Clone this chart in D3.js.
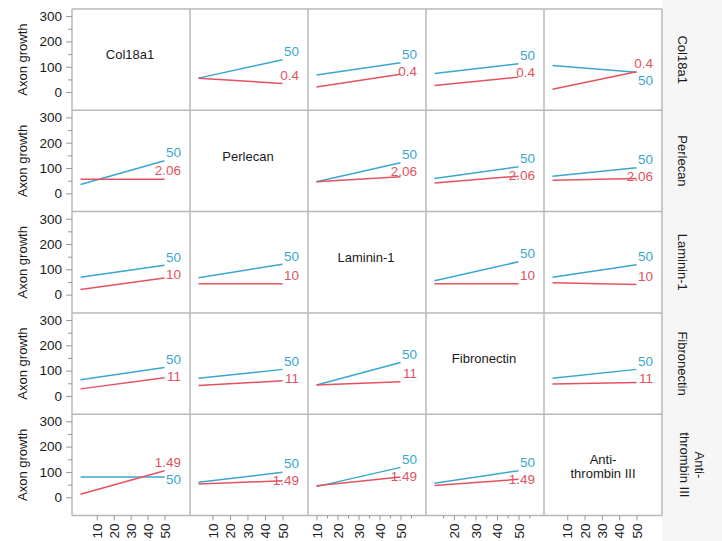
<!DOCTYPE html>
<html>
<head>
<meta charset="utf-8">
<script src="https://cdn.jsdelivr.net/npm/d3@7/dist/d3.min.js"></script>
<style>
  html, body { margin: 0; padding: 0; background: #ffffff; }
  svg { display: block; font-family: "Liberation Sans", Arial, Helvetica, sans-serif; }
</style>
</head>
<body>
<svg id="chart" width="722" height="541"></svg>
<script>
// Factors of the interaction matrix (rows and columns share the same list)
const factors = ["Col18a1", "Perlecan", "Laminin-1", "Fibronectin", "Antithrombin III"];
const diagLabels = [["Col18a1"], ["Perlecan"], ["Laminin-1"], ["Fibronectin"], ["Anti-", "thrombin III"]];
const lowLevels = [0.4, 2.06, 10, 11, 1.49];
const lowLevelLabels = ["0.4", "2.06", "10", "11", "1.49"];
const highLevel = 50;
const highLevelLabel = "50";

// Predicted axon growth at [column factor low, column factor high],
// with the row factor held at its high level (50)
const highSeries = [
  [null,      [55, 128], [67, 116], [73, 112], [105, 78]],
  [[35, 129], null,      [46, 121], [59, 105], [68, 101]],
  [[69, 116], [67, 120], null,      [55, 130], [69, 118]],
  [[64, 112], [70, 105], [43, 132], null,      [70, 105]],
  [[80, 80],  [59, 99],  [42, 118], [55, 105], null]
];
// ... and with the row factor held at its low level
const lowSeries = [
  [null,      [55, 34],  [20, 70],  [26, 59],  [11, 80]],
  [[56, 56],  null,      [46, 66],  [41, 68],  [52, 59]],
  [[20, 66],  [43, 43],  null,      [43, 43],  [47, 40]],
  [[28, 72],  [41, 60],  [43, 56],  null,      [47, 53]],
  [[12, 105], [52, 65],  [45, 80],  [46, 71],  null]
];

// Axis ticks
const yTicks = [0, 100, 200, 300];
const yMinorTicks = [50, 150, 250];
const yDomain = [-72, 328];
const xTicks = [
  [10, 20, 30, 40, 50],
  [10, 20, 30, 40, 50],
  [10, 20, 30, 40, 50],
  [20, 30, 40, 50],
  [10, 20, 30, 40, 50]
];
const xMinorTicks = [[], [], [15, 25, 35, 45, 55], [15, 25, 35, 45, 55], []];
const yTitle = "Axon growth";

const colors = { high: "#3ba7cf", low: "#e15361", frame: "#b8b8b8", tick: "#999999", text: "#1a1a1a" };

const svg = d3.select("#chart");
const n = factors.length;
const gridLeft = 72, gridTop = 9, cellW = 118, cellH = 101.3;
const gridRight = gridLeft + n * cellW, gridBottom = gridTop + n * cellH;

// Side strip for row names
svg.append("rect").attr("x", gridRight).attr("y", 0).attr("width", 722 - gridRight).attr("height", 541)
  .attr("fill", "#f6f6f6");

const xScales = factors.map((f, c) => {
  const x0 = gridLeft + c * cellW;
  return d3.scaleLinear().domain([lowLevels[c], highLevel]).range([x0 + 8.5, x0 + cellW - 25.5]);
});
const yScales = factors.map((f, r) => {
  const y0 = gridTop + r * cellH;
  return d3.scaleLinear().domain(yDomain).range([y0 + cellH, y0]);
});

// Cell backgrounds
const cells = svg.append("g");
for (let r = 0; r < n; r++) {
  for (let c = 0; c < n; c++) {
    cells.append("rect")
      .attr("x", gridLeft + c * cellW).attr("y", gridTop + r * cellH)
      .attr("width", cellW).attr("height", cellH)
      .attr("fill", "#ffffff");
  }
}

// Lines and level labels
const marks = svg.append("g");
const line = d3.line().x(d => d[0]).y(d => d[1]);
for (let r = 0; r < n; r++) {
  for (let c = 0; c < n; c++) {
    if (r === c) continue;
    const x = xScales[c], y = yScales[r];
    const xs = [lowLevels[c], highLevel];
    const series = [
      { vals: highSeries[r][c], color: colors.high, label: highLevelLabel },
      { vals: lowSeries[r][c], color: colors.low, label: lowLevelLabels[r] }
    ];
    series.forEach(s => {
      marks.append("path")
        .attr("d", line(xs.map((v, i) => [x(v), y(s.vals[i])])))
        .attr("fill", "none").attr("stroke", s.color).attr("stroke-width", 1.5);
      s.ly = y(s.vals[1]) - 8.5;
    });
    // keep the two end labels from overlapping
    const sorted = series.slice().sort((a, b) => a.ly - b.ly);
    if (sorted[1].ly - sorted[0].ly < 17) sorted[1].ly = sorted[0].ly + 17;
    series.forEach(s => {
      marks.append("text")
        .attr("x", gridLeft + c * cellW + 109).attr("y", s.ly).attr("dy", "0.35em")
        .attr("text-anchor", "end").attr("font-size", 13.5).attr("fill", s.color)
        .text(s.label);
    });
  }
}

// Diagonal factor names
for (let i = 0; i < n; i++) {
  const cx = gridLeft + i * cellW + cellW / 2 + (i === 4 ? 0 : -1);
  const cy = gridTop + i * cellH + cellH / 2;
  const lines = diagLabels[i];
  const t = svg.append("text").attr("text-anchor", "middle").attr("font-size", 13).attr("fill", colors.text);
  lines.forEach((s, k) => {
    t.append("tspan").attr("x", cx)
      .attr("y", lines.length === 1 ? cy - 5 : cy - 5 + k * 14)
      .attr("dy", "0.35em").text(s);
  });
}

// Grid frame
const frame = svg.append("g").attr("stroke", colors.frame).attr("stroke-width", 1.5).attr("fill", "none");
for (let i = 0; i <= n; i++) {
  frame.append("line").attr("x1", gridLeft + i * cellW).attr("x2", gridLeft + i * cellW)
    .attr("y1", gridTop).attr("y2", gridBottom);
  frame.append("line").attr("y1", gridTop + i * cellH).attr("y2", gridTop + i * cellH)
    .attr("x1", gridLeft).attr("x2", gridRight);
}

function styleAxis(g) {
  g.select(".domain").remove();
  g.selectAll(".tick line").attr("stroke", colors.tick);
  g.selectAll(".tick text").attr("fill", colors.text).attr("font-size", 13.5)
    .attr("font-family", "'Liberation Sans', Arial, Helvetica, sans-serif");
}

// Y axes, one per row
for (let r = 0; r < n; r++) {
  svg.append("g").attr("transform", `translate(${gridLeft},0)`)
    .call(d3.axisLeft(yScales[r]).tickValues(yMinorTicks).tickSize(4).tickFormat(""))
    .call(styleAxis);
  svg.append("g").attr("transform", `translate(${gridLeft},0)`)
    .call(d3.axisLeft(yScales[r]).tickValues(yTicks).tickSize(6).tickPadding(4))
    .call(styleAxis);
  const cy = gridTop + r * cellH + cellH / 2;
  svg.append("text")
    .attr("transform", `translate(22.5,${cy}) rotate(-90)`)
    .attr("text-anchor", "middle").attr("dy", "0.35em").attr("font-size", 13).attr("fill", colors.text)
    .text(yTitle);
}

// X axes, one per column
for (let c = 0; c < n; c++) {
  if (xMinorTicks[c].length) {
    svg.append("g").attr("transform", `translate(0,${gridBottom})`)
      .call(d3.axisBottom(xScales[c]).tickValues(xMinorTicks[c]).tickSize(3).tickFormat(""))
      .call(styleAxis);
  }
  const g = svg.append("g").attr("transform", `translate(0,${gridBottom})`)
    .call(d3.axisBottom(xScales[c]).tickValues(xTicks[c]).tickSize(5))
    .call(styleAxis);
  g.selectAll(".tick text")
    .attr("transform", "rotate(-90)")
    .attr("x", -8).attr("y", 0).attr("dy", "0.35em")
    .attr("text-anchor", "end");
}

// Row names in the side strip
const stripLabels = [["Col18a1"], ["Perlecan"], ["Laminin-1"], ["Fibronectin"], ["Anti-", "thrombin III"]];
for (let r = 0; r < n; r++) {
  const cy = gridTop + r * cellH + cellH / 2;
  const lines = stripLabels[r];
  lines.forEach((s, k) => {
    const cx = lines.length === 1 ? 683 : (k === 0 ? 700 : 685);
    svg.append("text")
      .attr("transform", `translate(${cx},${cy}) rotate(90)`)
      .attr("text-anchor", "middle").attr("dy", "0.35em").attr("font-size", 13).attr("fill", colors.text)
      .text(s);
  });
}
</script>
</body>
</html>
